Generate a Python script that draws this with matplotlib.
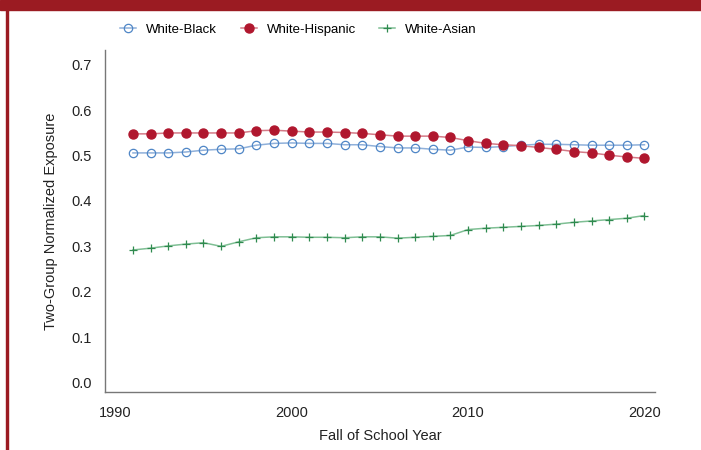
import numpy as np
import matplotlib
matplotlib.use("Agg")
import matplotlib.pyplot as plt
from matplotlib.patches import Rectangle

plt.rcParams['font.family'] = ['Liberation Sans', 'DejaVu Sans']

years = list(range(1991, 2021))

white_black = [0.506, 0.506, 0.506, 0.508, 0.512, 0.514, 0.515, 0.523, 0.527, 0.528,
               0.527, 0.527, 0.524, 0.524, 0.520, 0.517, 0.517, 0.514, 0.512, 0.519,
               0.518, 0.520, 0.523, 0.525, 0.525, 0.524, 0.523, 0.523, 0.523, 0.524]

white_hispanic = [0.548, 0.548, 0.550, 0.550, 0.550, 0.550, 0.550, 0.555, 0.556, 0.554,
                  0.552, 0.552, 0.551, 0.549, 0.546, 0.543, 0.543, 0.543, 0.540, 0.533,
                  0.527, 0.524, 0.522, 0.518, 0.514, 0.509, 0.506, 0.501, 0.497, 0.494]

white_asian = [0.292, 0.296, 0.301, 0.305, 0.308, 0.300, 0.310, 0.319, 0.321, 0.321,
               0.320, 0.320, 0.319, 0.321, 0.321, 0.318, 0.320, 0.322, 0.324, 0.337,
               0.340, 0.342, 0.344, 0.346, 0.349, 0.353, 0.356, 0.359, 0.362, 0.368]

xticks = [1990, 2000, 2010, 2020]
yticks = [0.0, 0.1, 0.2, 0.3, 0.4, 0.5, 0.6, 0.7]

fig = plt.figure(figsize=(7.01, 4.5), dpi=100)
ax = fig.add_axes([0.1494, 0.1282, 0.785, 0.7608])

# lines a bit lighter than the markers
ax.plot(years, white_black, color='#8fb0da', lw=1.1, marker='o', ms=6,
        mfc='none', mec='#4f86c6', mew=0.9, label='White-Black')
ax.plot(years, white_hispanic, color='#d47a87', lw=1.1, marker='o', ms=6.5,
        mfc='#b0172e', mec='#b0172e', label='White-Hispanic')
ax.plot(years, white_asian, color='#7fbf94', lw=1.1, marker='+', ms=5.5,
        mec='#2f8a4f', mew=0.9, label='White-Asian')

ax.set_xlim(1989.4, 2020.6)
ax.set_ylim(-0.0218, 0.733)
ax.set_xticks(xticks)
ax.set_yticks(yticks)
ax.set_yticklabels([f"{v:.1f}" for v in yticks])
ax.tick_params(length=0, labelsize=10.5, colors='#222222')
ax.tick_params(axis='y', pad=9)
ax.tick_params(axis='x', pad=10)

for s in ['top', 'right']:
    ax.spines[s].set_visible(False)
for s in ['left', 'bottom']:
    ax.spines[s].set_color('#777777')
    ax.spines[s].set_linewidth(1.0)

ax.set_xlabel("Fall of School Year", fontsize=10.5, color='#222222', labelpad=6)
ax.set_ylabel("Two-Group Normalized Exposure", fontsize=10.5, color='#222222', labelpad=10)

fig.legend(loc='center', bbox_to_anchor=(0.426, 0.934), ncol=3, frameon=False,
           fontsize=9.5, handlelength=1.2, columnspacing=1.8, handletextpad=0.75)

# red frame: top band and thin left line
fig.patches.append(Rectangle((0, 1 - 10 / 450), 1, 10 / 450, transform=fig.transFigure,
                             color='#9b1b22', zorder=0))
fig.patches.append(Rectangle((6 / 701, 0), 2 / 701, 1, transform=fig.transFigure,
                             color='#9b1b22', zorder=0))

fig.savefig("out.png", dpi=100)
